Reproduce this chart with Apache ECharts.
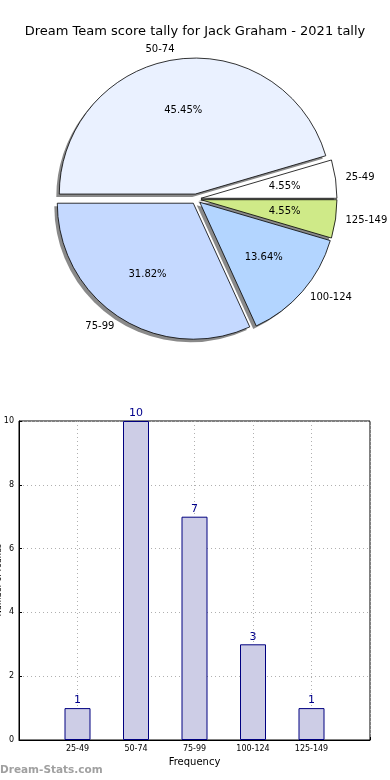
<!DOCTYPE html>
<html><head><meta charset="utf-8">
<script src="https://cdn.jsdelivr.net/npm/echarts@6/dist/echarts.min.js"></script>
<style>html,body{margin:0;padding:0;background:#fff}#c{width:390px;height:780px}</style>
</head><body><div id="c"></div>
<script>
const titleText = 'Dream Team score tally for Jack Graham - 2021 tally';
const categories = ['25-49', '50-74', '75-99', '100-124', '125-149'];
const counts = [1, 10, 7, 3, 1];
const pieColors = ['#ffffff', '#eaf1ff', '#c5d9ff', '#b3d5ff', '#cfea88'];
const yTicks = [0, 2, 4, 6, 8, 10];
const xName = 'Frequency';
const yName = 'Number of rounds';
const watermark = 'Dream-Stats.com';

const total = counts.reduce((a, b) => a + b, 0);
const font = 'DejaVu Sans';
const R = 136;
const C = [196, 199];
const pieData = categories.map((c, i) => ({
  name: c, value: counts[i], selected: true,
  itemStyle: { color: pieColors[i] }
}));
const pieShadow = categories.map((c, i) => ({ name: c, value: counts[i], selected: true }));
const pieInner = categories.map((c, i) => ({ name: c, value: counts[i], selected: true }));
const xCats = [''].concat(categories, ['']);
const barData = [null].concat(counts, [null]);

const chart = echarts.init(document.getElementById('c'), null, { renderer: 'canvas' });
chart.setOption({
  animation: false,
  backgroundColor: '#fff',
  textStyle: { fontFamily: font },
  title: {
    text: titleText, left: 'center', top: 20,
    textStyle: { fontFamily: font, fontSize: 13, fontWeight: 'normal', color: '#000' }
  },
  graphic: [{
    type: 'text', left: 0, top: 765,
    style: { text: watermark, font: 'bold 10.5px "DejaVu Sans"', fill: '#a0a0a0' }
  }, {
    type: 'text', x: -1.5, y: 580, rotation: Math.PI / 2,
    style: { text: yName, font: '8px "DejaVu Sans"', fill: '#000', align: 'center', verticalAlign: 'middle' }
  }],
  grid: {
    left: 19, right: 20, top: 421, bottom: 40, show: true,
    containLabel: false, outerBoundsMode: 'none',
    borderColor: '#000', borderWidth: 1, backgroundColor: 'transparent'
  },
  xAxis: {
    type: 'category', data: xCats, boundaryGap: false,
    name: xName, nameLocation: 'middle', nameGap: 17,
    nameTextStyle: { fontFamily: font, fontSize: 10, color: '#000' },
    axisLine: { lineStyle: { color: '#000' } },
    axisTick: { show: true, inside: true, length: 3, lineStyle: { color: '#000' } },
    axisLabel: { fontFamily: font, fontSize: 8, color: '#000', margin: 5, interval: 0 },
    splitLine: { show: true, lineStyle: { type: [1, 3], color: '#b0b0b0', width: 1 } }
  },
  yAxis: {
    type: 'value', min: 0, max: 10, interval: 2,
    axisLine: { show: true, lineStyle: { color: '#000' } },
    axisTick: { show: true, inside: true, length: 3, lineStyle: { color: '#000' } },
    axisLabel: { fontFamily: font, fontSize: 8, color: '#000', margin: 5,
      formatter: v => yTicks.includes(v) ? String(v) : '' },
    splitLine: { show: true, lineStyle: { type: [1, 3], color: '#b0b0b0', width: 1 } }
  },
  series: [
    {
      type: 'pie', center: [C[0] - 3, C[1] + 3], radius: R,
      startAngle: 0, clockwise: false,
      selectedMode: 'multiple', selectedOffset: 5,
      emphasis: { disabled: true }, silent: true,
      itemStyle: { color: '#8a8a8a', borderWidth: 0 },
      label: { show: false }, labelLine: { show: false },
      data: pieShadow, z: 1
    },
    {
      type: 'pie', center: C, radius: R,
      startAngle: 0, clockwise: false,
      selectedMode: 'multiple', selectedOffset: 5,
      avoidLabelOverlap: false,
      emphasis: { disabled: true },
      itemStyle: { borderColor: '#000', borderWidth: 0.8 },
      label: { show: true, position: 'outside', alignTo: 'none',
        fontFamily: font, fontSize: 10, color: '#000', formatter: '{b}', distanceToLabelLine: 0 },
      labelLine: { show: false, length: 10, length2: 0 },
      data: pieData, z: 2
    },
    {
      type: 'pie', center: C, radius: [R * 0.2, R],
      startAngle: 0, clockwise: false,
      selectedMode: 'multiple', selectedOffset: 5,
      emphasis: { disabled: true }, silent: true,
      itemStyle: { color: 'rgba(0,0,0,0)', borderWidth: 0 },
      label: { show: true, position: 'inside', fontFamily: font, fontSize: 10, color: '#000',
        formatter: p => (p.value / total * 100).toFixed(2) + '%' },
      labelLine: { show: false },
      data: pieInner, z: 3
    },
    {
      type: 'bar', data: barData, barWidth: 26,
      itemStyle: { color: '#cdcde6', borderColor: '#000080', borderWidth: 1 },
      label: { show: true, position: 'top', distance: 2, fontFamily: font, fontSize: 11, color: '#00008b' },
      emphasis: { disabled: true }, z: 1
    }
  ]
});
</script></body></html>
